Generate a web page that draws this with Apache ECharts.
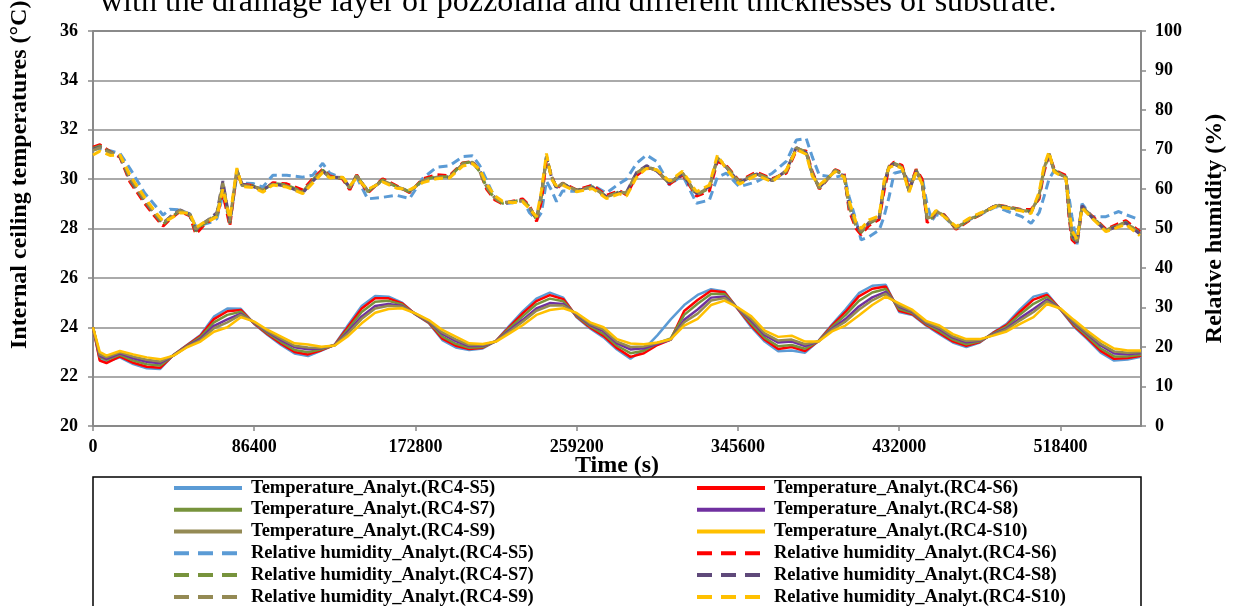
<!DOCTYPE html>
<html><head><meta charset="utf-8">
<script src="https://cdn.jsdelivr.net/npm/echarts@6/dist/echarts.min.js"></script>
<style>html,body{margin:0;padding:0;background:#fff}#c{width:1237px;height:606px}</style>
</head><body><div id="c"></div>
<script>
// ---- data ----
const xTicks = [0, 86400, 172800, 259200, 345600, 432000, 518400];
// temperature sample times (hours)
const tempHours = [0,1,2,4,6,8,10,12,14,16,18,20,22,24,26,28,30,32,34,36,38,40,42,44,46,48,50,52,54,56,58,60,62,64,66,68,70,72,74,76,78,80,82,84,86,88,90,92,94,96,98,100,102,104,106,108,110,112,114,116,118,120,122,124,126,128,130,132,134,136,138,140,142,144,146,148,150,152,154,156];
const tS5 = [24.0,22.7,22.6,22.78,22.51,22.34,22.31,22.89,23.28,23.69,24.43,24.76,24.75,24.13,23.69,23.28,22.94,22.83,23.05,23.30,24.1,24.86,25.27,25.24,25.0,24.52,24.16,23.48,23.18,23.08,23.14,23.45,24.07,24.65,25.16,25.4,25.2,24.4,23.95,23.59,23.1,22.73,23.1,23.67,24.32,24.9,25.31,25.54,25.45,24.73,24.0,23.42,23.03,23.06,22.97,23.45,24.11,24.72,25.38,25.68,25.72,24.62,24.5,24.07,23.72,23.38,23.2,23.38,23.79,24.14,24.72,25.24,25.38,24.72,24.03,23.52,22.97,22.65,22.69,22.8];
const tS6 = [24.0,22.65,22.55,22.82,22.56,22.4,22.36,22.88,23.27,23.65,24.33,24.65,24.7,24.15,23.72,23.33,23.0,22.9,23.07,23.29,24.03,24.76,25.17,25.17,24.97,24.53,24.18,23.54,23.25,23.12,23.17,23.45,24.02,24.57,25.06,25.3,25.14,24.43,23.99,23.65,23.16,22.8,22.95,23.28,23.5,24.66,25.1,25.48,25.42,24.74,24.07,23.49,23.12,23.2,23.04,23.44,24.07,24.62,25.25,25.56,25.65,24.67,24.53,24.1,23.77,23.43,23.25,23.4,23.77,24.09,24.63,25.12,25.31,24.73,24.07,23.57,23.04,22.72,22.75,22.84];
const tS7 = [24.0,22.8,22.68,22.88,22.65,22.5,22.45,22.87,23.25,23.6,24.2,24.5,24.63,24.17,23.76,23.4,23.08,22.99,23.11,23.28,23.94,24.62,25.03,25.07,24.92,24.53,24.21,23.62,23.33,23.17,23.2,23.44,23.96,24.45,24.93,25.16,25.05,24.46,24.04,23.73,23.25,22.95,23.05,23.35,23.55,24.5,24.95,25.35,25.35,24.76,24.15,23.57,23.23,23.28,23.13,23.44,24.01,24.49,25.07,25.41,25.55,24.74,24.57,24.14,23.84,23.5,23.31,23.43,23.74,24.03,24.52,24.95,25.23,24.73,24.12,23.64,23.14,22.82,22.82,22.89];
const tS8 = [24.0,22.85,22.72,22.94,22.74,22.6,22.54,22.86,23.23,23.53,24.06,24.32,24.55,24.19,23.81,23.48,23.19,23.11,23.15,23.28,23.83,24.44,24.86,24.94,24.86,24.54,24.24,23.73,23.44,23.24,23.25,23.43,23.88,24.31,24.76,24.98,24.94,24.51,24.1,23.84,23.35,23.1,23.15,23.33,23.5,24.3,24.72,25.2,25.25,24.77,24.26,23.68,23.38,23.42,23.24,23.43,23.94,24.33,24.84,25.21,25.43,24.83,24.62,24.18,23.93,23.58,23.39,23.46,23.71,23.95,24.37,24.74,25.12,24.74,24.19,23.72,23.26,22.94,22.91,22.96];
const tS9 = [24.0,22.9,22.78,22.98,22.81,22.68,22.61,22.86,23.21,23.48,23.96,24.2,24.5,24.21,23.84,23.54,23.25,23.18,23.17,23.27,23.76,24.34,24.76,24.87,24.83,24.55,24.26,23.79,23.51,23.28,23.28,23.43,23.83,24.23,24.67,24.88,24.88,24.54,24.14,23.9,23.42,23.2,23.22,23.36,23.5,24.2,24.55,25.08,25.18,24.78,24.33,23.75,23.46,23.5,23.31,23.43,23.9,24.23,24.71,25.09,25.36,24.88,24.65,24.21,23.98,23.63,23.44,23.48,23.69,23.91,24.28,24.62,25.05,24.75,24.23,23.77,23.33,23.02,22.97,23.0];
const tS10 = [24.0,23.0,22.85,23.04,22.9,22.78,22.70,22.85,23.19,23.42,23.82,24.0,24.41,24.23,23.89,23.62,23.35,23.3,23.21,23.26,23.65,24.16,24.59,24.74,24.77,24.56,24.29,23.89,23.62,23.35,23.32,23.42,23.75,24.09,24.5,24.7,24.77,24.58,24.2,24.0,23.52,23.34,23.31,23.38,23.52,24.07,24.34,24.9,25.08,24.8,24.44,23.86,23.61,23.66,23.42,23.42,23.83,24.07,24.48,24.9,25.24,24.97,24.7,24.26,24.07,23.72,23.52,23.52,23.66,23.83,24.14,24.41,24.94,24.76,24.3,23.86,23.45,23.14,23.06,23.06];
// relative humidity sample times (seconds)
const rhSeconds = [0,3700,9100,14500,19800,27800,33200,37500,41200,46600,51900,55100,58900,62600,66400,69600,73300,77100,79800,85600,91000,96400,103800,112400,117800,123100,126900,133800,137600,141300,147200,155200,162700,169700,176700,184100,191100,198100,203400,207200,210900,215200,219500,224800,230200,233900,237700,240300,243000,245700,248400,251600,259100,267700,275200,282100,285900,291300,296600,302000,308900,315900,323400,330300,334600,339400,346400,355500,364000,371500,376900,382200,385400,389200,397700,402500,405200,408900,411600,415900,421300,423900,426600,429300,433600,437300,441100,444300,447000,449600,451800,456100,462500,469500,474800,483900,489300,497800,502700,507000,509600,512300,515000,517700,521400,523000,524600,527300,530000,535300,542800,549700,553500,561000];
const rhS5 = [69.9,70.3,69.7,69.0,65.2,58.9,55.9,53.4,54.9,54.7,53.7,50.5,51.0,51.5,52.5,58.5,52.0,63.5,61.5,61.4,60.5,63.5,63.5,63.0,63.5,66.5,64.0,62.7,60.0,63.0,57.5,57.9,58.4,57.6,62.7,65.5,65.9,68.2,68.4,66.0,62.3,57.8,56.2,56.5,57.4,54.0,52.2,54.0,62.0,59.7,56.8,59.5,59.4,61.0,59.0,61.4,62.5,66.5,68.6,67.0,61.0,63.5,56.4,57.2,63.0,64.0,60.6,61.8,64.0,67.0,72.4,72.8,68.2,63.5,63.0,63.5,58.0,52.0,47.1,47.9,49.6,53.0,58.0,64.0,64.5,62.0,64.0,63.0,56.0,52.0,53.5,53.0,50.0,52.2,53.4,55.5,54.5,53.0,51.3,54.0,58.0,62.5,64.6,64.0,63.1,58.0,53.0,46.0,56.3,53.0,53.0,54.3,53.5,52.2];
const rhS6 = [70.6,71.2,69.5,68.0,61.8,56.3,53.0,50.6,52.3,54.3,53.2,48.6,50.6,52.0,53.2,59.0,50.6,64.5,61.2,60.9,59.5,61.6,61.3,59.8,62.6,65.0,63.3,62.5,59.8,63.6,59.0,62.6,60.8,59.1,62.6,63.6,63.4,66.6,67.0,64.6,60.0,57.3,56.2,56.9,57.5,55.8,51.8,57.0,67.5,63.5,60.0,61.5,59.8,60.9,58.4,59.6,58.5,63.4,65.4,64.9,61.2,63.6,58.2,59.5,67.0,65.9,62.0,64.3,62.6,64.0,69.8,69.6,64.5,60.0,64.9,64.0,54.5,50.0,48.4,50.8,52.3,59.5,65.5,66.8,66.0,59.9,65.0,62.5,51.5,52.5,54.2,53.5,49.8,52.0,53.3,56.0,55.6,54.8,54.8,57.5,64.2,68.8,65.2,64.2,63.4,53.0,47.2,46.0,55.2,53.2,49.8,51.3,52.0,49.2];
const rhS7 = [70.3,70.9,69.4,68.2,62.3,56.8,53.5,51.0,52.6,54.5,53.4,49.3,51.0,52.2,53.4,61.0,51.3,64.8,61.0,60.8,59.7,61.4,61.0,59.3,62.3,64.8,63.1,62.7,60.2,63.5,59.3,62.3,60.6,59.3,62.3,63.1,63.1,66.5,66.9,64.4,60.4,57.6,56.4,56.8,57.2,55.5,52.2,58.1,68.2,63.1,60.2,61.4,59.7,60.6,58.1,59.3,58.9,64.0,65.7,64.8,61.4,64.0,58.5,60.2,67.8,65.7,61.8,64.0,62.3,64.4,70.3,69.4,64.0,60.2,64.8,63.5,55.5,50.5,49.0,51.3,52.6,60.6,65.7,66.5,65.7,59.7,64.8,61.8,52.2,52.7,54.3,53.3,50.0,52.2,53.4,55.9,55.5,54.7,54.3,58.1,64.8,69.0,64.8,64.0,63.1,53.8,47.9,46.2,55.5,53.0,49.6,50.9,51.6,48.8];
const rhS8 = [70.1,70.6,69.2,68.3,62.6,57.0,53.7,51.3,52.9,54.7,53.6,49.6,51.3,52.5,54.0,62.0,51.6,64.6,61.3,60.6,59.9,61.3,60.7,59.0,62.0,64.5,63.0,62.9,60.4,63.3,59.6,62.0,60.4,59.5,62.0,62.9,63.0,66.2,66.6,64.7,60.7,57.9,56.6,56.7,57.0,55.3,52.5,58.8,68.0,63.0,60.4,61.3,59.6,60.4,58.0,59.1,59.2,64.2,65.9,64.6,61.6,63.8,58.8,60.6,67.6,65.5,61.6,63.8,62.1,64.6,70.5,69.2,63.8,60.4,64.6,63.3,55.8,50.8,49.3,51.5,52.8,61.0,65.9,66.3,65.4,59.5,64.5,61.6,52.5,52.9,54.4,53.2,50.2,52.4,53.6,55.8,55.4,54.6,54.1,58.5,65.0,68.8,64.6,63.8,63.0,54.2,48.3,46.5,55.8,52.8,49.4,50.7,51.4,48.6];
const rhS9 = [69.8,70.5,69.2,68.4,62.8,57.2,53.8,51.4,52.8,54.6,53.6,49.8,51.2,52.4,53.8,61.5,51.8,64.9,60.9,60.7,59.8,61.2,60.8,59.1,62.1,64.6,63.0,62.8,60.3,63.4,59.5,62.1,60.6,59.4,62.1,63.0,63.0,66.3,66.8,64.5,60.6,57.8,56.5,56.8,57.1,55.4,52.4,58.6,68.3,63.2,60.3,61.4,59.6,60.5,58.0,59.2,59.0,64.1,65.6,64.7,61.5,64.1,58.6,60.4,67.9,65.6,61.7,63.9,62.2,64.5,70.4,69.3,63.9,60.3,64.7,63.4,55.9,50.9,49.4,51.6,52.7,61.2,65.8,66.4,65.5,59.6,64.6,61.7,52.6,53.0,54.4,53.2,50.1,52.3,53.5,55.8,55.4,54.6,54.2,58.4,65.2,69.0,64.7,63.9,63.0,54.5,48.5,46.8,55.6,52.9,49.5,50.8,51.5,48.7];
const rhS10 = [68.6,69.6,68.5,68.6,63.5,57.8,54.3,51.9,52.4,54.0,53.9,50.2,51.4,52.0,53.0,60.0,52.5,65.3,60.6,60.4,59.2,61.0,60.5,58.8,61.5,64.2,62.8,63.0,60.8,62.8,59.9,61.8,60.2,59.8,61.6,62.6,62.8,65.8,66.4,65.0,61.4,58.3,56.9,56.5,56.8,55.0,53.0,59.5,69.0,62.4,60.8,61.0,59.3,60.1,57.6,58.8,58.2,63.0,65.2,64.9,62.0,64.5,59.3,61.0,68.6,65.0,61.2,63.5,61.8,64.8,70.0,68.8,63.3,61.0,64.4,63.0,57.0,51.6,50.0,52.2,53.2,62.0,65.4,66.0,65.2,59.2,64.2,61.4,53.6,53.3,54.6,53.0,50.5,52.6,53.8,55.6,55.2,54.4,53.8,59.2,65.8,69.4,64.4,63.6,62.6,55.5,49.5,47.2,55.2,52.6,49.2,50.4,51.0,48.2];

const sections = ['S5','S6','S7','S8','S9','S10'];
const tempColors = ['#5B9BD5','#FF0000','#77933C','#7030A0','#948A54','#FFC000'];
const rhColors   = ['#5B9BD5','#FF0000','#77933C','#5F497A','#948A54','#FFC000'];
const tempData = [tS5,tS6,tS7,tS8,tS9,tS10];
const rhData = [rhS5,rhS6,rhS7,rhS8,rhS9,rhS10];

// ---- chart ----
const FONT = '"Liberation Serif","Times New Roman",serif';
const AXC = '#898989';
const tName = s => 'Temperature_Analyt.(RC4-' + s + ')';
const hName = s => 'Relative humidity_Analyt.(RC4-' + s + ')';

const series = [];
sections.forEach((s, i) => {
  series.push({
    name: tName(s), type: 'line', yAxisIndex: 0, symbol: 'circle', symbolSize: 0, showSymbol: false, smooth: false,
    data: tempHours.map((h, j) => [h * 3600, tempData[i][j]]),
    lineStyle: { color: tempColors[i], width: 2.5 }, itemStyle: { color: tempColors[i] }
  });
});
sections.forEach((s, i) => {
  series.push({
    name: hName(s), type: 'line', yAxisIndex: 1, symbol: 'circle', symbolSize: 0, showSymbol: false, smooth: false,
    data: rhSeconds.map((t, j) => [t, rhData[i][j]]),
    lineStyle: { color: rhColors[i], width: 3, type: [9, 5] }, itemStyle: { color: rhColors[i] }
  });
});

const legendText = { fontFamily: FONT, fontWeight: 'bold', fontSize: 18.5, color: '#000', lineHeight: 21.8, padding: [0, 0, 0, 4] };
const legItem = (name, dashed) => ({
  name: name,
  itemStyle: { opacity: 0 },
  lineStyle: dashed ? { type: [15, 9], width: 4 } : { width: 4 }
});
function legendCol(left, list) {
  return {
    type: 'plain', orient: 'vertical', left: left, top: 477, height: 200, padding: 0, itemGap: 0,
    itemWidth: 68, itemHeight: 14, selectedMode: false,
    textStyle: legendText, data: list
  };
}

const chart = echarts.init(document.getElementById('c'), null, { renderer: 'canvas' });
chart.setOption({
  animation: false,
  backgroundColor: '#fff',
  grid: { left: 93, right: 96, top: 31, bottom: 180, show: true, borderColor: '#000', borderWidth: 1, backgroundColor: 'transparent' },
  xAxis: {
    type: 'value', min: 0, max: 561600, interval: xTicks[1] - xTicks[0],
    name: 'Time (s)', nameLocation: 'middle', nameGap: 28, nameMoveOverlap: false,
    nameTextStyle: { fontFamily: FONT, fontWeight: 'bold', fontSize: 24, color: '#000' },
    axisLine: { show: true, lineStyle: { color: AXC, width: 2 } },
    axisTick: { show: true, inside: false, length: 5, lineStyle: { color: AXC, width: 1.5 } },
    axisLabel: { fontFamily: FONT, fontWeight: 'bold', fontSize: 18, color: '#000', margin: 12, showMaxLabel: false,
      formatter: v => (xTicks.indexOf(v) >= 0 ? String(v) : '') },
    splitLine: { show: false }
  },
  yAxis: [{
    type: 'value', min: 20, max: 36, interval: 2, position: 'left',
    axisLine: { show: true, lineStyle: { color: AXC, width: 2 } },
    axisTick: { show: true, inside: false, length: 5, lineStyle: { color: AXC, width: 1.5 } },
    axisLabel: { fontFamily: FONT, fontWeight: 'bold', fontSize: 18, color: '#000', margin: 15 },
    splitLine: { show: true, lineStyle: { color: '#8e8e8e', width: 1.5 } }
  }, {
    type: 'value', min: 0, max: 100, interval: 10, position: 'right',
    name: 'Relative humidity (%)', nameLocation: 'middle', nameRotate: 90, nameGap: 62, nameMoveOverlap: false,
    nameTextStyle: { fontFamily: FONT, fontWeight: 'bold', fontSize: 24, color: '#000' },
    axisLine: { show: true, lineStyle: { color: AXC, width: 2 } },
    axisTick: { show: true, inside: false, length: 5, lineStyle: { color: AXC, width: 1.5 } },
    axisLabel: { fontFamily: FONT, fontWeight: 'bold', fontSize: 18, color: '#000', margin: 14 },
    splitLine: { show: false }
  }],
  legend: [
    legendCol(172, [legItem(tName('S5')), legItem(tName('S7')), legItem(tName('S9')), legItem(hName('S5'), 1), legItem(hName('S7'), 1), legItem(hName('S9'), 1)]),
    legendCol(695, [legItem(tName('S6')), legItem(tName('S8')), legItem(tName('S10')), legItem(hName('S6'), 1), legItem(hName('S8'), 1), legItem(hName('S10'), 1)])
  ],
  graphic: [
    { type: 'text', x: 100, y: 2.5, silent: true,
      style: { text: 'with the drainage layer of pozzolana and different thicknesses of substrate.', font: '32px "Liberation Serif", serif', fill: '#000', align: 'left', verticalAlign: 'middle' } },
    { type: 'text', x: 20, y: 349, rotation: Math.PI / 2, silent: true,
      style: { text: 'Internal ceiling temperatures (°C)', font: 'bold 24px "Liberation Serif", serif', fill: '#000', align: 'left', verticalAlign: 'middle' } },
    { type: 'rect', silent: true, shape: { x: 93, y: 477, width: 1048, height: 140 }, style: { fill: 'none', stroke: '#000', lineWidth: 1.5 } }
  ],
  series: series
});
</script></body></html>
